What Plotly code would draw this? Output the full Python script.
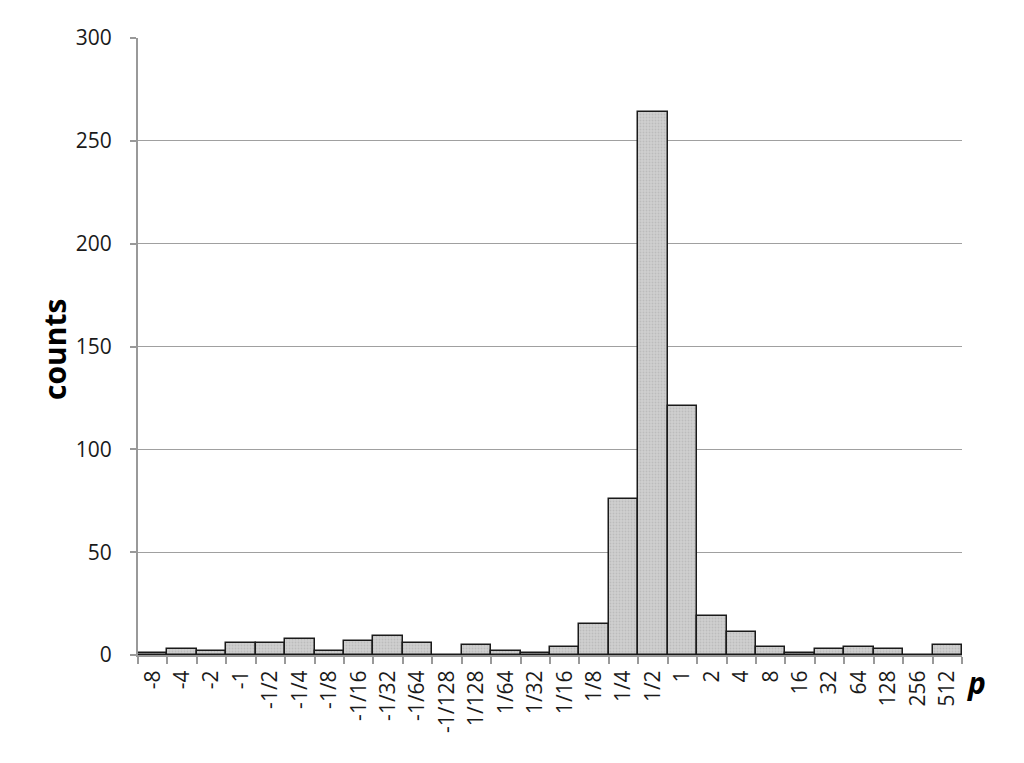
import plotly.graph_objects as go

categories = ["-8", "-4", "-2", "-1", "-1/2", "-1/4", "-1/8", "-1/16", "-1/32", "-1/64",
              "-1/128", "1/128", "1/64", "1/32", "1/16", "1/8", "1/4", "1/2", "1", "2",
              "4", "8", "16", "32", "64", "128", "256", "512"]
counts = [1, 3, 2, 6, 6, 8, 2, 7, 9, 6,
          0, 5, 2, 1, 4, 15, 76, 264, 121, 19,
          11, 4, 1, 3, 4, 3, 0, 5]
y_ticks = [0, 50, 100, 150, 200, 250, 300]

font_family = "Open Sans, Noto Sans, sans-serif"

fig = go.Figure()
fig.add_trace(go.Bar(
    x=categories, y=counts,
    marker=dict(color="#c4c4c4", line=dict(color="#1a1a1a", width=1.5),
                pattern=dict(shape=".", fgcolor="#a8a8a8", bgcolor="#d0d0d0", size=3, solidity=0.3)),
    hoverinfo="x+y",
))

OFF = 8  # page body offset
W, H = 1024, 763
L, T = 138 - OFF, 38 - OFF
pw, ph = 824, 617
R = W - L - pw
B = H - T - ph

def px(xp):
    return (xp - OFF - L) / pw

def py(yp):
    return 1 - (yp - OFF - T) / ph

fig.update_layout(
    width=W, height=H,
    margin=dict(l=L, r=R, t=T, b=B),
    paper_bgcolor="white", plot_bgcolor="white",
    bargap=0,
    showlegend=False,
    font=dict(family=font_family, size=20, color="#1a1a1a"),
    xaxis=dict(
        type="category", tickangle=-90, tickson="boundaries",
        ticks="outside", ticklen=7, tickcolor="#999", tickwidth=2,
        showline=True, linecolor="#999", linewidth=2,
        showgrid=False, tickfont=dict(size=21, color="#1a1a1a"),
        ticklabelstandoff=5,
    ),
    yaxis=dict(
        range=[0, 300], tickvals=y_ticks,
        ticks="outside", ticklen=6, tickcolor="#999", tickwidth=2,
        showline=True, linecolor="#999", linewidth=2,
        showgrid=True, gridcolor="#a0a0a0", gridwidth=1,
        zeroline=False, tickfont=dict(size=21, color="#1a1a1a"),
        ticklabelstandoff=14,
    ),
    annotations=[
        dict(text="<b>counts</b>", xref="paper", yref="paper",
             x=px(55), y=py(350), xanchor="center", yanchor="middle",
             textangle=-90, showarrow=False, font=dict(size=30, color="#000")),
        dict(text="<b><i>p</i></b>", xref="paper", yref="paper",
             x=px(976), y=py(682), xanchor="center", yanchor="middle",
             showarrow=False, font=dict(size=30, color="#000")),
    ],
)

fig.write_html("out.html")
